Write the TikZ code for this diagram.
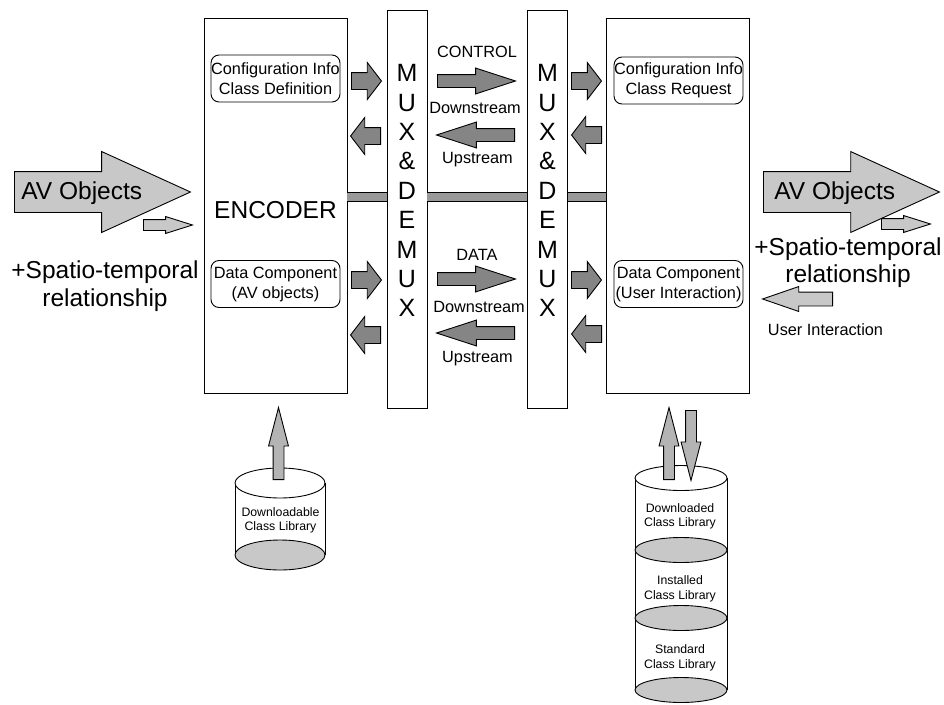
\documentclass[tikz,border=0pt]{standalone}
\usepackage{fontspec}
\setmainfont{Liberation Sans}
\usetikzlibrary{shapes.arrows,positioning}

\definecolor{arrowgray}{HTML}{858585}
\definecolor{lightfill}{HTML}{C8C8C8}
\definecolor{busgray}{HTML}{999999}
\definecolor{cylgray}{HTML}{B4B4B4}

\begin{document}
\begin{tikzpicture}[
    x=1pt, y=-1pt,
    line width=0.9pt,
    bigtext/.style={font=\fontsize{24.5}{27.5}\selectfont, inner sep=0pt},
    muxtext/.style={font=\fontsize{25}{29.4}\selectfont, inner sep=0pt, align=center},
    midtext/.style={font=\fontsize{16.3}{20}\selectfont, inner sep=0pt},
    libtext/.style={font=\fontsize{12.3}{14.5}\selectfont, inner sep=0pt, align=center},
    mainbox/.style={draw, minimum width=143pt, minimum height=375pt, inner sep=0pt},
    muxbox/.style={draw, minimum width=40pt, minimum height=398pt, inner sep=0pt},
    inbox/.style={draw, rounded corners=8pt, align=center, minimum width=129pt, minimum height=47pt, midtext},
    bus/.style={draw=black, line width=1pt, double=busgray, double distance=8pt},
    blk/.style={single arrow, draw, anchor=tail, inner xsep=0pt, minimum width=0pt, single arrow head indent=0pt},
    sidearrow/.style={blk, fill=arrowgray, inner ysep=8pt, single arrow head extend=10pt, minimum height=30pt, single arrow tip angle=105},
    linkarrow/.style={blk, fill=arrowgray, inner ysep=6pt, single arrow head extend=6.5pt, minimum height=78pt, single arrow tip angle=36},
    avarrow/.style={blk, fill=lightfill, inner ysep=20pt, single arrow head extend=20pt, minimum height=176pt, single arrow tip angle=49},
    strarrow/.style={blk, fill=lightfill, inner ysep=5pt, single arrow head extend=3pt, minimum height=49pt, single arrow tip angle=35},
    uiarrow/.style={blk, fill=lightfill, inner ysep=6.5pt, single arrow head extend=5.5pt, minimum height=70pt, single arrow tip angle=38},
    libarrow/.style={blk, fill=cylgray, inner ysep=5pt, single arrow head extend=4.5pt, minimum height=72pt, single arrow tip angle=29}
]
\useasboundingbox (0,0) rectangle (944,704);

% main blocks
\node[mainbox] (enc) at (275.5,205.5) {};
\node[bigtext] (enctxt) at (275.5,210) {ENCODER};
\node[mainbox] (dec) at (678,205.5) {};
\node[muxbox] (mux1) at (407,209) {};
\node[muxtext] (mux1txt) at (407,190.6) {M\\U\\X\\\&\\D\\E\\M\\U\\X};
\node[muxbox] (mux2) at (547.5,209) {};
\node[muxtext] (mux2txt) at (547.5,190.6) {M\\U\\X\\\&\\D\\E\\M\\U\\X};

% bus
\coordinate (busy) at (0,197);
\draw[bus] (enc.east |- busy) -- (mux1.west |- busy);
\draw[bus] (mux1.east |- busy) -- (mux2.west |- busy);
\draw[bus] (mux2.east |- busy) -- (dec.west |- busy);

% inner boxes
\node[inbox] (cfgE) at (275.5,78.5) {Configuration Info\\Class Definition};
\node[inbox] (datE) at (275.5,284) {Data Component\\(AV objects)};
\node[inbox] (cfgD) at (678.5,80.5) {Configuration Info\\Class Request};
\node[inbox] (datD) at (678.5,284) {Data Component\\(User Interaction)};

% arrows beside the boxes
\node[sidearrow] (e1) at (351,81) {};
\node[sidearrow, rotate=180] (e2) at (381,136) {};
\node[sidearrow] (e3) at (351,280) {};
\node[sidearrow, rotate=180] (e4) at (381,335) {};
\node[sidearrow] (d1) at (571,81) {};
\node[sidearrow, rotate=180] (d2) at (602,135) {};
\node[sidearrow] (d3) at (571,280) {};
\node[sidearrow, rotate=180] (d4) at (602,334) {};

% arrows between the muxes
\node[linkarrow] (c1) at (437,81) {};
\node[linkarrow, rotate=180] (c2) at (515,135) {};
\node[linkarrow] (c3) at (437,279) {};
\node[linkarrow, rotate=180] (c4) at (515,333) {};
\node[midtext, anchor=base] (ctl) at (477,57.7) {CONTROL};
\node[midtext, anchor=base] (ds1) at (475,113.7) {Downstream};
\node[midtext, anchor=base] (us1) at (477.5,163.5) {Upstream};
\node[midtext, anchor=base] (dat) at (477,260.7) {DATA};
\node[midtext, anchor=base] (ds2) at (479,312.7) {Downstream};
\node[midtext, anchor=base] (us2) at (477.5,362.7) {Upstream};

% input side
\node[avarrow] (avL) at (14,192) {};
\node[bigtext, anchor=base west] (avLtxt) at (21,199.5) {AV Objects};
\node[strarrow] (stL) at (143,225) {};
\node[bigtext, align=center] (stLtxt) at (105,286) {+Spatio-temporal\\relationship};

% output side
\node[avarrow] (avR) at (763,192) {};
\node[bigtext, anchor=base west] (avRtxt) at (774,199) {AV Objects};
\node[strarrow] (stR) at (881,224) {};
\node[bigtext, align=center] (stRtxt) at (848,262.8) {+Spatio-temporal\\relationship};
\node[uiarrow, rotate=180] (ui) at (833,299) {};
\node[midtext] (uitxt) at (825.5,330) {User Interaction};

% downloadable class library
\draw (235,483) -- (235,555) (325,483) -- (325,555);
\draw[fill=white] (280,483) ellipse [x radius=45, y radius=15];
\draw[fill=lightfill] (280,555) ellipse [x radius=45, y radius=15];
\node[libtext] (dlib) at (280.5,520.4) {Downloadable\\Class Library};
\node[libarrow, rotate=90] (up1) at (278.5,480) {};

% class libraries of the decoder
\draw (635,478) -- (635,690) (727,478) -- (727,690);
\draw[fill=white] (681,478) ellipse [x radius=46, y radius=12.5];
\draw[fill=lightfill] (681,550) ellipse [x radius=46, y radius=12.5];
\draw[fill=lightfill] (681,618) ellipse [x radius=46, y radius=12.5];
\draw[fill=lightfill] (681,690) ellipse [x radius=46, y radius=12.5];
\node[libtext] (lib1) at (680,516.5) {Downloaded\\Class Library};
\node[libtext] (lib2) at (680,589) {Installed\\Class Library};
\node[libtext] (lib3) at (680,658) {Standard\\Class Library};
\node[libarrow, rotate=90] (up2) at (669,480) {};
\node[libarrow, rotate=270, minimum height=70pt] (dn2) at (691,410) {};
\end{tikzpicture}
\end{document}
